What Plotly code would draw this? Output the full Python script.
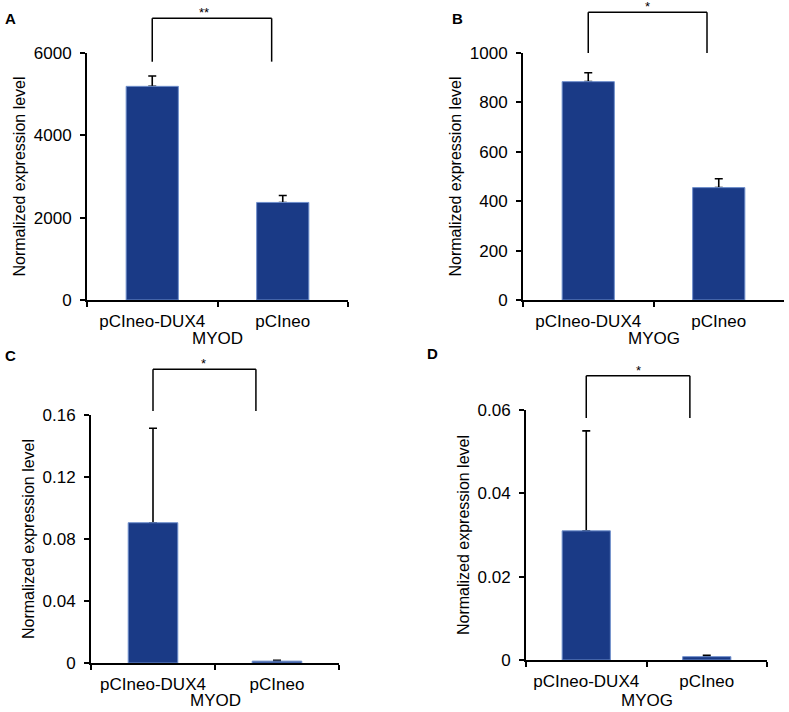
import plotly.graph_objects as go

# ---------------- data ----------------
categories = ["pCIneo-DUX4", "pCIneo"]

myod_a_values = [5190, 2370]
myod_a_errors = [250, 170]

myog_b_values = [884, 455]
myog_b_errors = [36, 36]

myod_c_values = [0.0905, 0.0012]
myod_c_errors = [0.061, 0.0005]

myog_d_values = [0.031, 0.0008]
myog_d_errors = [0.024, 0.0003]

panel_letters = ["A", "B", "C", "D"]
gene_labels = ["MYOD", "MYOG", "MYOD", "MYOG"]
significance = ["**", "*", "*", "*"]
y_tick_values = [
    [0, 2000, 4000, 6000],
    [0, 200, 400, 600, 800, 1000],
    [0, 0.04, 0.08, 0.12, 0.16],
    [0, 0.02, 0.04, 0.06],
]

# ---------------- style / layout ----------------
FONT = "Liberation Sans, Arial, Helvetica, sans-serif"
BAR_COLOR = "#1a3a86"
BAR_EDGE = "#6f8fcc"
W, H = 789, 712

# plot-area boxes in pixels: (left, right, top, bottom)
boxes = [(87, 348, 53, 300), (523, 784, 53, 300), (91, 339, 415, 663), (526, 767, 410, 660)]
# bracket: (top as fraction of y-range, leg bottom fraction, right leg category position, star category position)
brackets = [(1.1405, 0.965, 0.915, 0.40), (1.165, 1.0, 0.91, 0.455), (1.184, 1.016, 0.83, 0.41), (1.137, 0.968, 0.86, 0.43)]
letter_pos = [(10, 18), (457, 18), (10, 355), (433, 354)]
gene_label_shift = [-38, -38, -37, -40]

values = [myod_a_values, myog_b_values, myod_c_values, myog_d_values]
errors = [myod_a_errors, myog_b_errors, myod_c_errors, myog_d_errors]

fig = go.Figure()
layout = dict(
    width=W, height=H, autosize=False,
    margin=dict(l=0, r=0, t=0, b=0, pad=0),
    paper_bgcolor="white", plot_bgcolor="white",
    showlegend=False, barmode="overlay",
    font=dict(family=FONT, color="black", size=16),
)
shapes = []
annotations = []

for i in range(4):
    xa = "x" if i == 0 else f"x{i+1}"
    ya = "y" if i == 0 else f"y{i+1}"
    l, r, t, b = boxes[i]
    ymax = y_tick_values[i][-1]

    # error bars (drawn under the visible bars so the lower cap is hidden)
    fig.add_trace(go.Bar(
        x=categories, y=values[i], xaxis=xa, yaxis=ya, width=0.4,
        marker=dict(color="rgba(0,0,0,0)", line=dict(width=0)),
        error_y=dict(type="data", array=errors[i], arrayminus=[0] * len(errors[i]),
                     symmetric=False, color="black", thickness=1.6, width=4),
        hoverinfo="skip",
    ))
    fig.add_trace(go.Bar(
        x=categories, y=values[i], xaxis=xa, yaxis=ya, width=0.4,
        marker=dict(color=BAR_COLOR, line=dict(color=BAR_EDGE, width=1)),
    ))

    xkey = "xaxis" if i == 0 else f"xaxis{i+1}"
    ykey = "yaxis" if i == 0 else f"yaxis{i+1}"
    layout[xkey] = dict(
        domain=[l / W, r / W], anchor=ya, range=[-0.5, 1.5], automargin=False,
        showline=True, linecolor="black", linewidth=2,
        ticks="outside", tickson="boundaries", ticklen=5, tickwidth=2, tickcolor="black",
        tickfont=dict(size=17, family=FONT), showgrid=False, ticklabelstandoff=5,
        fixedrange=True,
    )
    layout[ykey] = dict(
        domain=[1 - b / H, 1 - t / H], anchor=xa, range=[0, ymax], automargin=False,
        tickmode="array", tickvals=y_tick_values[i],
        showline=True, linecolor="black", linewidth=2,
        ticks="outside", ticklen=5, tickwidth=2, tickcolor="black", ticklabelstandoff=5,
        tickfont=dict(size=17, family=FONT), showgrid=False, zeroline=False,
        title=dict(text="Normalized expression level", font=dict(size=16, family=FONT), standoff=4),
        fixedrange=True,
    )

    xd = xa + " domain"
    yd = ya + " domain"

    # gene label under the category labels
    annotations.append(dict(
        xref=xd, yref=yd, x=0.5, y=0, text=gene_labels[i], showarrow=False,
        xanchor="center", yanchor="middle", yshift=gene_label_shift[i],
        font=dict(size=17, family=FONT),
    ))

    # significance bracket
    top, leg, right, star = brackets[i]
    xl = (0 + 0.5) / 2
    xr = (right + 0.5) / 2
    line = dict(color="black", width=1.5)
    shapes.append(dict(type="line", xref=xd, yref=yd, x0=xl, x1=xr, y0=top, y1=top, line=line))
    shapes.append(dict(type="line", xref=xd, yref=yd, x0=xl, x1=xl, y0=top, y1=leg, line=line))
    shapes.append(dict(type="line", xref=xd, yref=yd, x0=xr, x1=xr, y0=top, y1=leg, line=line))
    annotations.append(dict(
        xref=xd, yref=yd, x=(star + 0.5) / 2, y=top, text=significance[i],
        showarrow=False, xanchor="center", yanchor="bottom",
        font=dict(size=13, family=FONT), yshift=-4,
    ))

    lx, ly = letter_pos[i]
    annotations.append(dict(
        xref="paper", yref="paper", x=lx / W, y=1 - ly / H, text=f"<b>{panel_letters[i]}</b>",
        showarrow=False, xanchor="center", yanchor="middle",
        font=dict(size=15, family=FONT),
    ))

layout["shapes"] = shapes
layout["annotations"] = annotations
fig.update_layout(**layout)
fig.write_html(
    "out.html",
    config={"displayModeBar": False, "staticPlot": False},
    post_script="document.body.style.margin='0';document.body.style.padding='0';",
)
